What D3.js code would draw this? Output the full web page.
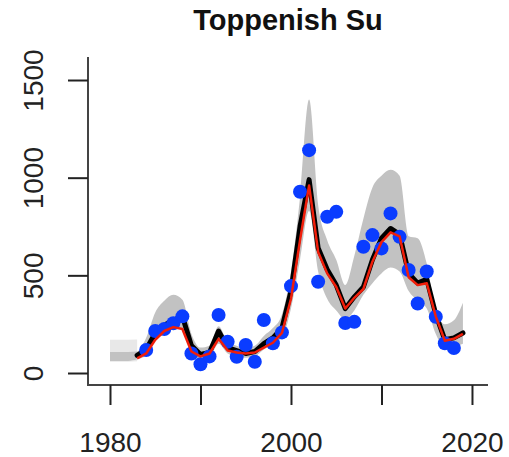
<!DOCTYPE html>
<html><head><meta charset="utf-8">
<script src="https://cdn.jsdelivr.net/npm/d3@7"></script>
<style>body{margin:0;background:#fff}svg{display:block}text{font-family:"Liberation Sans",Arial,Helvetica,sans-serif}</style>
</head><body>
<script>
const title = "Toppenish Su";
const xTicks = [1980, 1990, 2000, 2010, 2020];
const xTickLabels = ["1980", "", "2000", "", "2020"];
const yTicks = [0, 500, 1000, 1500];
const yTickLabels = ["0", "500", "1000", "1500"];

// early (prior) band years and bounds
const priorYears = [1980, 1981, 1982, 1983];
const priorLow = [58, 58, 58, 60];
const priorHigh = [170, 170, 170, 172];

// credible band
const bandYears = [1980,1981,1982,1983,1984,1985,1986,1987,1988,1989,1990,1991,1992,1993,1994,1995,1996,1997,1998,1999,2000,2001,2002,2003,2004,2005,2006,2007,2008,2009,2010,2011,2012,2013,2014,2015,2016,2017,2018,2019];
const bandLow  = [62,62,62,70,90,165,200,225,225,110,70,80,150,100,85,78,85,120,150,180,330,580,830,520,380,320,275,320,400,460,510,540,520,420,370,330,200,130,135,150];
const bandHigh = [108,108,108,110,180,310,370,400,375,200,130,140,240,160,140,130,140,190,230,300,520,900,1400,860,680,580,450,600,790,950,1010,1040,1010,700,690,560,320,250,270,360];

// model fit (black) and smoothed estimate (red)
const lineYears = [1983,1984,1985,1986,1987,1988,1989,1990,1991,1992,1993,1994,1995,1996,1997,1998,1999,2000,2001,2002,2003,2004,2005,2006,2007,2008,2009,2010,2011,2012,2013,2014,2015,2016,2017,2018,2019];
const fitValues = [90,120,205,245,270,290,140,95,105,215,130,115,100,110,150,180,230,420,750,990,640,530,450,330,390,440,580,690,740,710,510,460,480,300,170,180,205];
const estValues = [75,100,170,215,235,225,110,85,100,175,115,105,100,105,130,155,205,380,680,960,620,510,440,330,385,430,570,670,720,700,490,450,460,290,165,175,200];

// observations
const obsYears = [1984,1985,1986,1987,1988,1989,1990,1991,1992,1993,1994,1995,1996,1997,1998,1999,2000,2001,2002,2003,2004,2005,2006,2007,2008,2009,2010,2011,2012,2013,2014,2015,2016,2017,2018];
const obsValues = [118,215,225,255,290,100,45,85,297,160,83,143,58,271,152,208,445,928,1141,467,800,825,256,262,646,706,638,817,697,527,356,520,288,152,128];

const W = 509, H = 457;
const L = 88, R = 488, T = 57, B = 385;
const svg = d3.select("body").append("svg").attr("width", W).attr("height", H);
const x = d3.scaleLinear().domain([1977.57, 2021.77]).range([L, R]);
const y = d3.scaleLinear().domain([-61.4, 1617.8]).range([B, T]);

const area = d3.area().x(d => x(d[0])).y0(d => y(d[1])).y1(d => y(d[2]));
svg.append("path").datum(priorYears.map((yr, i) => [yr, priorLow[i], priorHigh[i]]))
  .attr("d", area).attr("fill", "#e8e8e8");
svg.append("path").datum(bandYears.map((yr, i) => [yr, bandLow[i], bandHigh[i]]))
  .attr("d", area.curve(d3.curveMonotoneX)).attr("fill", "#c2c2c2");

const line = d3.line().x(d => x(d[0])).y(d => y(d[1]));
svg.append("path").datum(lineYears.map((yr, i) => [yr, fitValues[i]]))
  .attr("d", line).attr("fill", "none").attr("stroke", "#000").attr("stroke-width", 5)
  .attr("stroke-linejoin", "round").attr("stroke-linecap", "round");

svg.append("g").selectAll("circle").data(obsYears.map((yr, i) => [yr, obsValues[i]]))
  .join("circle").attr("cx", d => x(d[0])).attr("cy", d => y(d[1])).attr("r", 7)
  .attr("fill", "#0a3cff");

svg.append("path").datum(lineYears.map((yr, i) => [yr, estValues[i]]))
  .attr("d", line).attr("fill", "none").attr("stroke", "#f01e0a").attr("stroke-width", 2.5)
  .attr("stroke-linejoin", "round");

// box (bty = "l")
svg.append("path").attr("d", `M${L},${T}V${B}H${R}`).attr("fill", "none")
  .attr("stroke", "#444").attr("stroke-width", 2);

const xAxis = d3.axisBottom(x).tickValues(xTicks).tickSize(20).tickPadding(27)
  .tickFormat((d, i) => xTickLabels[i]);
const gx = svg.append("g").attr("transform", `translate(0,${B})`).call(xAxis);
gx.select(".domain").remove();
gx.selectAll(".tick line").attr("stroke", "#222").attr("stroke-width", 2);
gx.selectAll(".tick text").attr("font-size", 28).attr("fill", "#222");

const yAxis = d3.axisLeft(y).tickValues(yTicks).tickSize(20).tickFormat((d, i) => yTickLabels[i]);
const gy = svg.append("g").attr("transform", `translate(${L},0)`).call(yAxis);
gy.select(".domain").remove();
gy.selectAll(".tick line").attr("stroke", "#222").attr("stroke-width", 2);
gy.selectAll(".tick text").attr("font-size", 28).attr("fill", "#222")
  .attr("x", null).attr("dy", null).attr("text-anchor", "middle")
  .attr("transform", "translate(-45,0) rotate(-90)");

svg.append("text").attr("x", 288).attr("y", 30).attr("text-anchor", "middle")
  .attr("font-size", 29).attr("font-weight", "bold").attr("fill", "#111").text(title);
</script>
</body></html>
